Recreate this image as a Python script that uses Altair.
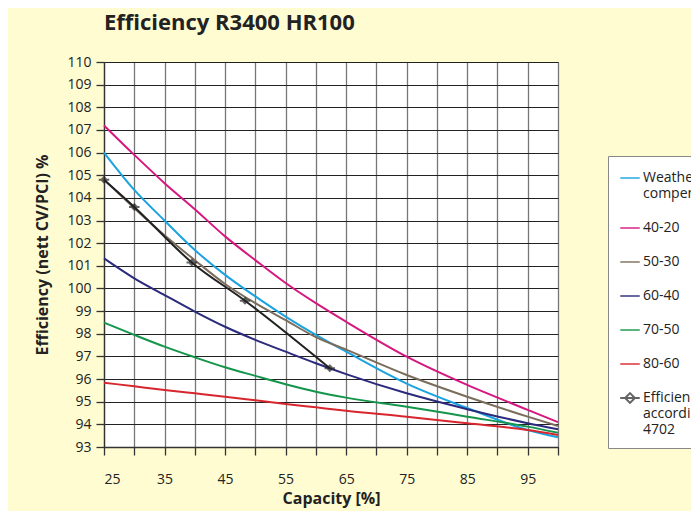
import altair as alt
import pandas as pd

series_names = ["Weather compensated", "40-20", "50-30", "60-40", "70-50", "80-60",
                "Efficiency according to DIN 4702"]
series_colors = ["#1AA3E0", "#D6177F", "#7B6D5C", "#2B2A7C", "#14954B", "#D7262E", "#222222"]

cap_a = [25, 30, 35, 40, 45, 50, 55, 60, 65, 75, 85, 95, 100]
weather = [106.0, 104.35, 103.0, 101.7, 100.6, 99.65, 98.76, 97.95, 97.21, 95.8, 94.72, 93.75, 93.43]
s40_20 = [107.2, 105.9, 104.65, 103.5, 102.3, 101.25, 100.24, 99.35, 98.53, 96.99, 95.74, 94.64, 94.1]
s50_30 = [104.8, 103.55, 102.35, 101.25, 100.2, 99.35, 98.6, 97.85, 97.3, 96.18, 95.22, 94.34, 93.93]
s60_40 = [101.33, 100.45, 99.71, 98.98, 98.31, 97.73, 97.21, 96.7, 96.22, 95.37, 94.67, 94.05, 93.78]
s70_50 = [98.49, 97.95, 97.43, 96.96, 96.52, 96.14, 95.77, 95.44, 95.18, 94.78, 94.34, 93.9, 93.63]
s80_60 = [95.84, 95.68, 95.52, 95.37, 95.22, 95.06, 94.9, 94.75, 94.6, 94.34, 94.05, 93.75, 93.53]

din_cap = [25, 30, 39.5, 48.3, 62.3]
din_eff = [104.8, 103.6, 101.15, 99.46, 96.48]

rows = []
for name, vals in zip(series_names[:6], [weather, s40_20, s50_30, s60_40, s70_50, s80_60]):
    for c, v in zip(cap_a, vals):
        rows.append({"capacity": c, "eff": v, "series": name})
for c, v in zip(din_cap, din_eff):
    rows.append({"capacity": c, "eff": v, "series": series_names[6]})
df = pd.DataFrame(rows)
df_din = df[df.series == series_names[6]]

FONT = "Open Sans"
diamond_path = "M-1,0L1,0M0,-0.5L0.5,0L0,0.5L-0.5,0Z"
shape_range = ["stroke"] * 6 + [diamond_path]

x_enc = alt.X("capacity:Q",
              scale=alt.Scale(domain=[25, 100], nice=False, zero=False),
              axis=alt.Axis(values=list(range(25, 101, 5)),
                            labelExpr="(datum.value - 25) % 10 == 0 && datum.value < 100 ? datum.label : ''",
                            title="Capacity [%]", gridColor="#777777", gridWidth=1.3,
                            tickSize=8, labelPadding=17, titlePadding=4))
y_enc = alt.Y("eff:Q",
              scale=alt.Scale(domain=[93, 110], nice=False, zero=False),
              axis=alt.Axis(values=list(range(93, 111)), title="Efficiency (nett CV/PCI) %",
                            gridColor="#222222", gridWidth=1.2, tickSize=8, labelPadding=5,
                            titlePadding=16))

color_scale = alt.Scale(domain=series_names, range=series_colors)

legend = alt.Legend(
    title=None, orient="none", legendX=504, legendY=94,
    labelExpr="datum.label == 'Weather compensated' ? ['Weather', 'compensated'] : "
              "(datum.label == 'Efficiency according to DIN 4702' ? ['Efficiency', 'according to DIN', '4702'] : datum.label)",
    labelFontSize=14, labelFont=FONT, labelColor="#222222", labelLimit=400, labelOffset=2,
    symbolSize=380, symbolStrokeWidth=2, rowPadding=16,
    fillColor="white", strokeColor="#888888", padding=11, offset=0,
)

lines = alt.Chart(df).mark_line(strokeWidth=2, interpolate="monotone").encode(
    x=x_enc, y=y_enc,
    color=alt.Color("series:N", scale=color_scale, legend=legend, sort=series_names),
    order=alt.Order("capacity:Q"),
)

points = alt.Chart(df_din).mark_point(filled=False, size=110, strokeWidth=2).encode(
    x=x_enc, y=y_enc,
    color=alt.Color("series:N", scale=color_scale, legend=legend, sort=series_names),
    shape=alt.Shape("series:N", scale=alt.Scale(domain=series_names, range=shape_range),
                    legend=legend, sort=series_names),
)

chart = alt.layer(lines, points).properties(
    width=454, height=385,
    autosize=alt.AutoSizeParams(type="none"),
    padding={"left": 96, "top": 54, "right": 133, "bottom": 64},
    background="#FFFCD2",
    title=alt.TitleParams("Efficiency R3400 HR100", anchor="start", fontSize=22,
                          fontWeight="bold", font=FONT, color="#222222", offset=20,
                          frame="group"),
).configure_view(
    fill="white", stroke="#444444", strokeWidth=1
).configure_axis(
    labelFont=FONT, titleFont=FONT, labelFontSize=14, titleFontSize=16,
    titleFontWeight="bold", labelColor="#222222", titleColor="#222222",
    tickColor="#333333", domainColor="#333333", domainWidth=1.3, tickWidth=1.3,
)

chart.save("out.html", embed_options={"renderer": "svg", "actions": False})
